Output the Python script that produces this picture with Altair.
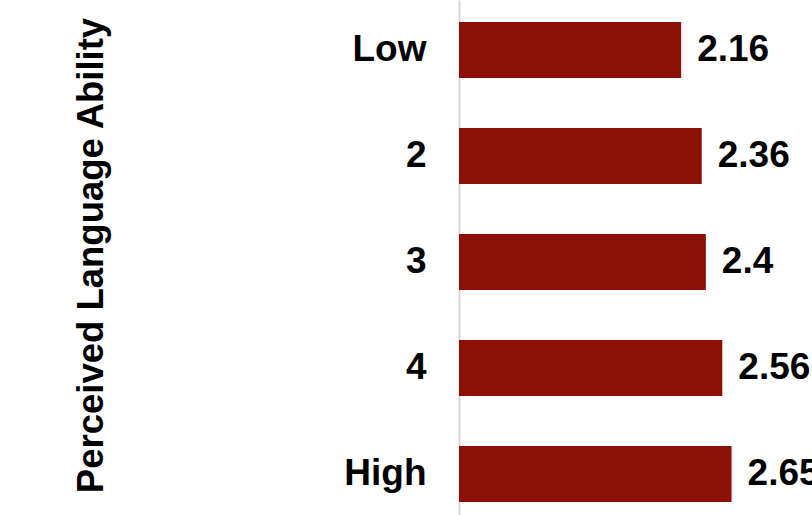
import altair as alt
import pandas as pd

categories = ["Low", "2", "3", "4", "High"]
values = [2.16, 2.36, 2.4, 2.56, 2.65]

df = pd.DataFrame({"cat": categories, "val": values})

FONT = "Liberation Sans"
FS = 37

y = alt.Y(
    "cat:N",
    sort=categories,
    scale=alt.Scale(paddingInner=0.472, paddingOuter=0.165, align=0.63),
    axis=alt.Axis(
        title="Perceived Language Ability",
        titleFont=FONT,
        titleFontSize=36.5,
        titleFontWeight="bold",
        titleColor="black",
        titleX=-368,
        titleY=255,
        titleAngle=270,
        titleAlign="center",
        titleBaseline="middle",
        labelFont=FONT,
        labelFontSize=FS,
        labelFontWeight="bold",
        labelColor="black",
        labelPadding=33,
        ticks=False,
        domainColor="#d9d9d9",
        domainWidth=2,
    ),
)

x = alt.X(
    "val:Q",
    scale=alt.Scale(domain=[0, 3.432], nice=False, zero=True),
    axis=None,
)

bars = alt.Chart(df).mark_bar(color="#8B1106").encode(x=x, y=y)
labels = alt.Chart(df).mark_text(
    align="left", baseline="middle", dx=16, font=FONT, fontSize=FS,
    fontWeight="bold", color="black"
).encode(x=x, y=alt.Y("cat:N", sort=categories), text="val:Q")

chart = (
    (bars + labels)
    .properties(
        width=353,
        height=515,
        padding={"left": 459, "top": 0, "right": 0, "bottom": 0},
        autosize=alt.AutoSizeParams(type="none"),
        background="white",
    )
    .configure_view(stroke=None)
)

chart.save("out.html", embed_options={"renderer": "svg", "actions": False})
